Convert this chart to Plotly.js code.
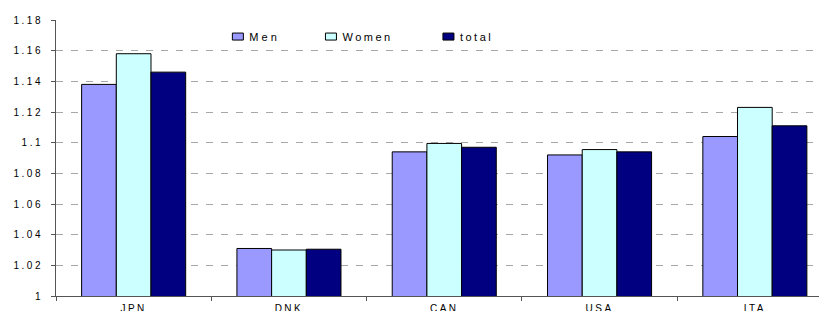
<!DOCTYPE html>
<html>
<head>
<meta charset="utf-8">
<script src="https://cdn.plot.ly/plotly-3.0.1.min.js"></script>
<style>
html,body{margin:0;padding:0;background:#fff;overflow:hidden;}
#chart{width:819px;height:311px;}
svg text { letter-spacing: 2.5px; }
svg text.legendtext { letter-spacing: 3px; }
</style>
</head>
<body>
<div id="chart"></div>
<script>
const categories = ['JPN', 'DNK', 'CAN', 'USA', 'ITA'];
const men = [1.138, 1.031, 1.094, 1.092, 1.104];
const women = [1.158, 1.030, 1.0995, 1.0955, 1.123];
const total = [1.146, 1.0305, 1.097, 1.094, 1.111];
const yTickVals = [1, 1.02, 1.04, 1.06, 1.08, 1.1, 1.12, 1.14, 1.16, 1.18];
const yTickText = ['1', '1.02', '1.04', '1.06', '1.08', '1.1', '1.12', '1.14', '1.16', '1.18'];

const font = {family: 'Arial, "Liberation Sans", sans-serif', size: 10, color: '#000'};
const legFont = {family: 'Arial, "Liberation Sans", sans-serif', size: 11, color: '#000'};

const traces = [
  {type: 'bar', name: 'Men', x: categories, y: men, legend: 'legend',
   marker: {color: '#9999FF', line: {color: '#000', width: 1}}},
  {type: 'bar', name: 'Women', x: categories, y: women, legend: 'legend2',
   marker: {color: '#CCFFFF', line: {color: '#000', width: 1}}},
  {type: 'bar', name: 'total', x: categories, y: total, legend: 'legend3',
   marker: {color: '#000080', line: {color: '#000', width: 1}}}
];

const legBase = {orientation: 'h', bgcolor: 'rgba(0,0,0,0)', font: legFont,
  xanchor: 'left', yanchor: 'middle', y: 0.94, itemwidth: 30};

const layout = {
  width: 819, height: 311,
  margin: {l: 56, r: 0, t: 19.5, b: 15, pad: 0},
  paper_bgcolor: '#fff', plot_bgcolor: '#fff',
  font: font,
  barmode: 'group', bargap: 0.33, bargroupgap: 0,
  showlegend: true,
  legend: Object.assign({}, legBase, {x: 0.201}),
  legend2: Object.assign({}, legBase, {x: 0.323}),
  legend3: Object.assign({}, legBase, {x: 0.477}),
  xaxis: {
    type: 'category', range: [-0.5, 4.413],
    showline: true, linecolor: '#555', linewidth: 1,
    ticks: 'outside', tickson: 'boundaries', ticklen: 4, tickcolor: '#555',
    ticklabelstandoff: 3,
    showgrid: false, zeroline: false, tickfont: font, fixedrange: true
  },
  yaxis: {
    range: [1, 1.18], tickvals: yTickVals, ticktext: yTickText,
    showline: true, linecolor: '#555', linewidth: 1,
    ticks: 'outside', ticklen: 4, tickcolor: '#555',
    ticklabelstandoff: 6,
    showgrid: true, gridcolor: '#a8a8a8', gridwidth: 1, griddash: '7px,8px',
    zeroline: false, tickfont: font, fixedrange: true
  },
  shapes: [
    {type: 'rect', xref: 'paper', yref: 'paper', x0: 0.195, x1: 0.607, y0: 0.865, y1: 0.985,
     fillcolor: '#fff', line: {width: 0}, layer: 'between'}
  ]
};

Plotly.newPlot('chart', traces, layout, {displayModeBar: false, staticPlot: true}).then(function (gd) {
  gd.querySelectorAll('.legendpoints path').forEach(function (p) {
    p.setAttribute('d', 'M14,3.5H3V-3.5H14Z');
  });
  gd.querySelectorAll('.infolayer [clip-path]').forEach(function (el) {
    if ((el.getAttribute('class') || '').indexOf('scrollbox') >= 0) el.removeAttribute('clip-path');
  });
});
</script>
</body>
</html>
